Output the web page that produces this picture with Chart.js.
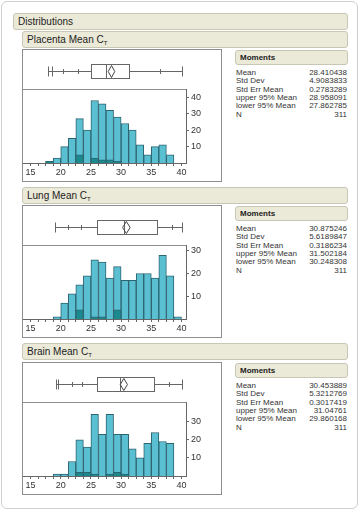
<!DOCTYPE html>
<html>
<head>
<meta charset="utf-8">
<script src="https://cdn.jsdelivr.net/npm/chart.js@4.4.1/dist/chart.umd.min.js"></script>
<style>
  body { margin: 0; background: #fff; font-family: "Liberation Sans", Arial, sans-serif; color: #222; }
  #page { position: relative; width: 360px; height: 511px; overflow: hidden; }
  .outer { position: absolute; left: 1px; top: 1px; width: 355px; height: 506px; border: 1px solid #cfcfcf; border-radius: 6px; }
  .hdr { position: absolute; height: 15px; background: #ebe9d7; border: 1px solid #c8c6b4; border-radius: 3px; font-size: 10px; line-height: 15px; padding-left: 4px; box-sizing: border-box; height: 17px; }
  .hdr sub { font-size: 6px; vertical-align: -2px; }
  .frame { position: absolute; width: 200px; height: 133px; border: 1px solid #8e8e8e; box-sizing: border-box; }
  .frame canvas { position: absolute; left: 0; top: 0; }
  .mhdr { position: absolute; left: 235px; width: 113px; height: 15px; background: #ebe9d7; border: 1px solid #c8c6b4; border-radius: 3px; box-sizing: border-box; font-size: 8px; font-weight: bold; line-height: 13px; padding-left: 4px; }
  .mrow { position: absolute; left: 236px; width: 111px; height: 8.35px; font-size: 8px; line-height: 8.35px; color: #333; }
  .mrow span { position: absolute; right: 0; }
</style>
</head>
<body>
<div id="page">
  <div class="outer"></div>
  <div class="hdr" style="left:13px; top:13px; width:335px;">Distributions</div>
</div>
<script>
// histogram bins (lower edges, width 1.25)
const binEdges = [17.5, 18.75, 20, 21.25, 22.5, 23.75, 25, 26.25, 27.5, 28.75, 30, 31.25, 32.5, 33.75, 35, 36.25, 37.5, 38.75];
const binWidth = 1.25;

// counts per bin, all rows / selected rows
const placentaCounts = [1, 3, 10, 15, 27, 20, 38, 36, 32, 28, 24, 20, 11, 5, 10, 11, 5, 0];
const placentaSel    = [1, 0, 0, 0, 5, 0, 3, 2, 2, 1, 0, 0, 0, 0, 0, 0, 0, 0];
const lungCounts     = [0, 1, 7, 11, 15, 19, 26, 25, 18, 23, 17, 17, 20, 20, 18, 28, 19, 1];
const lungSel        = [0, 0, 0, 0, 4, 0, 1, 1, 0, 4, 0, 0, 0, 0, 0, 0, 0, 0];
const brainCounts    = [0, 1, 1, 8, 20, 16, 34, 23, 34, 23, 23, 15, 10, 18, 24, 19, 18, 0];
const brainSel       = [0, 0, 0, 0, 2, 2, 1, 0, 1, 2, 1, 0, 0, 0, 0, 0, 0, 0];

// box plot: min, q1, median, q3, max
const placentaBox = [17.84, 25.0, 27.57, 31.28, 40.1];
const lungBox     = [19.1, 26.04, 30.5, 35.98, 40.1];
const brainBox    = [19.26, 26.04, 29.75, 35.4, 40.1];
// tall end lines and short quantile ticks
const placentaCaps = [17.84, 18.55, 40.1];
const lungCaps     = [19.1, 40.1];
const brainCaps    = [19.26, 19.5, 40.1];
const placentaTicks = [20.36, 22.8, 36.4];
const lungTicks     = [21.2, 23.4, 38.5];
const brainTicks    = [21.8, 23.5, 38.0];

// moments
const momentLabels = ['Mean', 'Std Dev', 'Std Err Mean', 'upper 95% Mean', 'lower 95% Mean', 'N'];
const placentaMoments = ['28.410438', '4.9083833', '0.2783289', '28.958091', '27.862785', '311'];
const lungMoments     = ['30.875246', '5.6189847', '0.3186234', '31.502184', '30.248308', '311'];
const brainMoments    = ['30.453889', '5.3212769', '0.3017419', '31.04761', '29.860168', '311'];

// axis ticks
const xTickStart = 15, xTickEnd = 40, xLabelEvery = 5;
const placentaYTicks = [10, 20, 30, 40];
const lungYTicks = [10, 20, 30];
const brainYTicks = [10, 20, 30];

const sections = [
  { name: 'Placenta', top: 31, frameTop: 49, counts: placentaCounts, sel: placentaSel, box: placentaBox, caps: placentaCaps, ticks: placentaTicks, moments: placentaMoments, yTicks: placentaYTicks, yMax: 45 },
  { name: 'Lung', top: 187, frameTop: 205, counts: lungCounts, sel: lungSel, box: lungBox, caps: lungCaps, ticks: lungTicks, moments: lungMoments, yTicks: lungYTicks, yMax: 32.5 },
  { name: 'Brain', top: 343, frameTop: 362, counts: brainCounts, sel: brainSel, box: brainBox, caps: brainCaps, ticks: brainTicks, moments: brainMoments, yTicks: brainYTicks, yMax: 40.8 }
];

Chart.defaults.font.family = '"Liberation Sans", Arial, sans-serif';
Chart.defaults.font.size = 9;
Chart.defaults.color = '#333';

const boxPlugin = {
  id: 'boxplot',
  afterDraw(chart, args, o) {
    const ctx = chart.ctx, x = chart.scales.x, a = chart.chartArea;
    const px = v => Math.round(x.getPixelForValue(v)) + 0.5;
    const cy = Math.round(a.top * 0.54) + 0.5;
    const hh = 7, dh = 6;
    ctx.save();
    ctx.lineWidth = 1;
    // divider between box plot and histogram
    ctx.strokeStyle = '#8e8e8e';
    ctx.beginPath();
    ctx.moveTo(a.left, a.top + 0.5);
    ctx.lineTo(a.right, a.top + 0.5);
    ctx.stroke();
    ctx.strokeStyle = '#666';
    const [mn, q1, med, q3, mx] = o.box;
    ctx.beginPath();
    ctx.moveTo(px(mn), cy); ctx.lineTo(px(q1), cy);
    ctx.moveTo(px(q3), cy); ctx.lineTo(px(mx), cy);
    o.caps.forEach(c => { ctx.moveTo(px(c), cy - 5); ctx.lineTo(px(c), cy + 5); });
    o.ticks.forEach(t => { ctx.moveTo(px(t), cy - 2.5); ctx.lineTo(px(t), cy + 2.5); });
    ctx.stroke();
    ctx.fillStyle = '#fff';
    ctx.fillRect(px(q1), cy - hh, px(q3) - px(q1), 2 * hh);
    ctx.strokeRect(px(q1), cy - hh, px(q3) - px(q1), 2 * hh);
    ctx.beginPath();
    ctx.moveTo(px(med), cy - hh); ctx.lineTo(px(med), cy + hh);
    ctx.stroke();
    // means diamond
    const mean = parseFloat(o.moments[0]), lo = parseFloat(o.moments[4]), hi = parseFloat(o.moments[3]);
    ctx.strokeStyle = '#444';
    ctx.beginPath();
    ctx.moveTo(x.getPixelForValue(lo), cy);
    ctx.lineTo(x.getPixelForValue(mean), cy - dh);
    ctx.lineTo(x.getPixelForValue(hi), cy);
    ctx.lineTo(x.getPixelForValue(mean), cy + dh);
    ctx.closePath();
    ctx.stroke();
    ctx.restore();
  }
};

const page = document.getElementById('page');

sections.forEach(s => {
  const hdr = document.createElement('div');
  hdr.className = 'hdr';
  hdr.style.cssText = `left:22px; top:${s.top}px; width:326px;`;
  hdr.innerHTML = `${s.name} Mean C<sub>T</sub>`;
  page.appendChild(hdr);

  const frame = document.createElement('div');
  frame.className = 'frame';
  frame.style.cssText = `left:22px; top:${s.frameTop}px;`;
  const cv = document.createElement('canvas');
  cv.width = 198; cv.height = 131;
  frame.appendChild(cv);
  page.appendChild(frame);

  const mh = document.createElement('div');
  mh.className = 'mhdr';
  mh.style.top = (s.frameTop + 1) + 'px';
  mh.textContent = 'Moments';
  page.appendChild(mh);
  momentLabels.forEach((lab, i) => {
    const r = document.createElement('div');
    r.className = 'mrow';
    r.style.top = (s.frameTop + 20 + i * 8.35) + 'px';
    r.innerHTML = `${lab}<span>${s.moments[i]}</span>`;
    page.appendChild(r);
  });

  const pts = arr => binEdges.map((e, i) => ({ x: e + binWidth / 2, y: arr[i] })).filter(p => p.y > 0);

  new Chart(cv.getContext('2d'), {
    type: 'bar',
    data: {
      datasets: [
        { data: pts(s.sel), backgroundColor: '#1b8a8f', borderColor: '#2d6470', borderWidth: 1, grouped: false, order: 0, barPercentage: 1, categoryPercentage: 1 },
        { data: pts(s.counts), backgroundColor: '#5bbfd2', borderColor: '#2d6470', borderWidth: 1, grouped: false, order: 1, barPercentage: 1, categoryPercentage: 1 }
      ]
    },
    options: {
      responsive: false,
      animation: false,
      layout: { padding: { top: 39, left: 0, right: 0, bottom: 0 } },
      plugins: { legend: { display: false }, tooltip: { enabled: false }, boxplot: s },
      scales: {
        x: {
          type: 'linear', min: 13.75, max: 40.75, offset: false,
          grid: { drawOnChartArea: false, offset: false, tickLength: 3, color: '#666' },
          border: { color: '#666' },
          afterBuildTicks: sc => {
            const t = [];
            for (let v = xTickStart; v <= xTickEnd + 1e-9; v += binWidth) t.push({ value: v });
            sc.ticks = t;
          },
          ticks: { autoSkip: false, maxRotation: 0, padding: 1, color: '#333',
                   callback: v => (Math.abs(v % xLabelEvery) < 1e-9 ? String(v) : '') },
          afterFit: sc => { sc.height = 18; }
        },
        y: {
          position: 'right', min: 0, max: s.yMax,
          grid: { drawOnChartArea: false, tickLength: 3, color: '#666' },
          border: { color: '#666' },
          afterBuildTicks: sc => { sc.ticks = s.yTicks.map(v => ({ value: v })); },
          ticks: { padding: 2, color: '#333' },
          afterFit: sc => { sc.width = 35; }
        }
      }
    },
    plugins: [boxPlugin]
  });
});
</script>
</body>
</html>
